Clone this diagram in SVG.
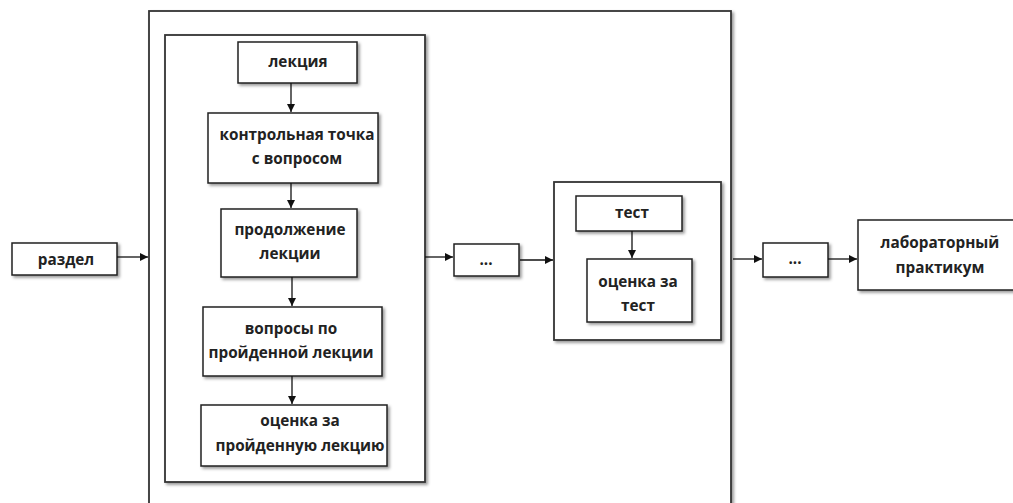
<svg xmlns="http://www.w3.org/2000/svg" width="1013" height="503" viewBox="0 0 1013 503">
  <defs>
    <filter id="sh" x="-10%" y="-10%" width="130%" height="130%">
      <feDropShadow dx="2" dy="2" stdDeviation="1.5" flood-color="#000" flood-opacity="0.4"/>
    </filter>
    <marker id="arr" markerWidth="8" markerHeight="8" refX="8" refY="4" orient="auto" markerUnits="userSpaceOnUse">
      <path d="M0,0 L8,4 L0,8 Z" fill="#111"/>
    </marker>
    <style>
      .box { fill: #fff; stroke: #222; stroke-width: 1.5; filter: url(#sh); }
      .frame { fill: #fff; stroke: #333; stroke-width: 1.8; filter: url(#sh); }
      .t { font-family: "Open Sans", "Liberation Sans", sans-serif; font-weight: bold; font-size: 15.3px; fill: #222; text-anchor: middle; }
      .c { stroke: #111; stroke-width: 1.3; fill: none; marker-end: url(#arr); }
    </style>
  </defs>
  <rect width="1013" height="503" fill="#fff"/>

  <g id="outer-frame">
    <rect class="frame" x="149" y="11" width="582" height="510"/>
  </g>
  <g id="lecture-frame">
    <rect class="frame" x="165" y="35" width="260" height="447"/>
  </g>
  <g id="test-frame">
    <rect class="frame" x="554" y="182" width="167" height="158"/>
  </g>

  <g id="razdel">
    <rect class="box" x="12" y="243" width="105" height="32"/>
    <text class="t" x="66" y="265">раздел</text>
  </g>
  <g id="lekciya">
    <rect class="box" x="238" y="42" width="119" height="41"/>
    <text class="t" x="298" y="67">лекция</text>
  </g>
  <g id="kontrol">
    <rect class="box" x="208" y="113" width="170" height="70"/>
    <text class="t" x="297" y="140">контрольная точка</text>
    <text class="t" x="297" y="164">с вопросом</text>
  </g>
  <g id="prodolzhenie">
    <rect class="box" x="221" y="209" width="136" height="68"/>
    <text class="t" x="290" y="235">продолжение</text>
    <text class="t" x="290" y="259">лекции</text>
  </g>
  <g id="voprosy">
    <rect class="box" x="203" y="307" width="179" height="69"/>
    <text class="t" x="291" y="334">вопросы по</text>
    <text class="t" x="291" y="358">пройденной лекции</text>
  </g>
  <g id="ocenka-lekciya">
    <rect class="box" x="201" y="405" width="186" height="61"/>
    <text class="t" x="300" y="426">оценка за</text>
    <text class="t" x="300" y="451">пройденную лекцию</text>
  </g>
  <g id="dots1">
    <rect class="box" x="454" y="244" width="65" height="32"/>
    <text class="t" x="486" y="265">...</text>
  </g>
  <g id="test">
    <rect class="box" x="576" y="196" width="106" height="35"/>
    <text class="t" x="632" y="218">тест</text>
  </g>
  <g id="ocenka-test">
    <rect class="box" x="587" y="259" width="105" height="63"/>
    <text class="t" x="638" y="287">оценка за</text>
    <text class="t" x="638" y="311">тест</text>
  </g>
  <g id="dots2">
    <rect class="box" x="763" y="243" width="65" height="34"/>
    <text class="t" x="795" y="264">...</text>
  </g>
  <g id="lab">
    <rect class="box" x="858" y="220" width="165" height="70"/>
    <text class="t" x="940" y="248">лабораторный</text>
    <text class="t" x="940" y="273">практикум</text>
  </g>

  <g id="connectors">
    <line class="c" x1="117" y1="257" x2="148" y2="257"/>
    <line class="c" x1="291" y1="83" x2="291" y2="112"/>
    <line class="c" x1="291" y1="183" x2="291" y2="208"/>
    <line class="c" x1="292" y1="277" x2="292" y2="306"/>
    <line class="c" x1="292" y1="376" x2="292" y2="404"/>
    <line class="c" x1="425" y1="257" x2="453" y2="257"/>
    <line class="c" x1="520" y1="260" x2="553" y2="260"/>
    <line class="c" x1="632" y1="231" x2="632" y2="258"/>
    <line class="c" x1="733" y1="259" x2="762" y2="259"/>
    <line class="c" x1="828" y1="259" x2="857" y2="259"/>
  </g>
</svg>
